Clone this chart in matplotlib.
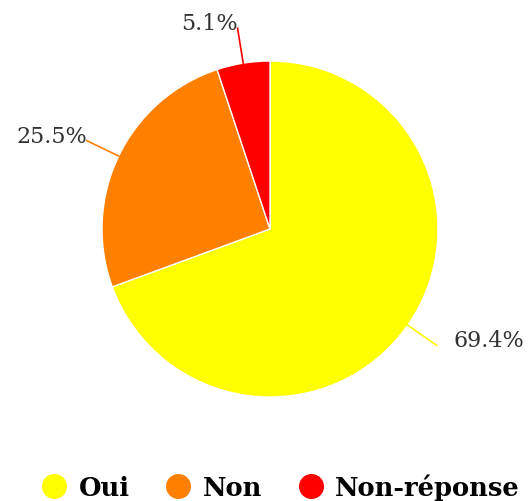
import numpy as np
import matplotlib.pyplot as plt
from matplotlib.lines import Line2D

labels = ["Oui", "Non", "Non-réponse"]
values = [69.4, 25.5, 5.1]
colors = ["#FFFF00", "#FF8000", "#FF0000"]

fig = plt.figure(figsize=(5.32, 5.02), dpi=100)
# pie centre at (270, 230) px, radius 168 px
ax = fig.add_axes([(270 - 168) / 532, (502 - 230 - 168) / 502, 336 / 532, 336 / 502])
wedges, _ = ax.pie(values, colors=colors, startangle=90, counterclock=False,
                   radius=1, wedgeprops=dict(edgecolor="white", linewidth=1))
ax.set_xlim(-1, 1)
ax.set_ylim(-1, 1)
ax.set_aspect("equal")
ax.axis("off")

# percentage labels with leader lines
for w, v, c in zip(wedges, values, colors):
    ang = np.deg2rad((w.theta1 + w.theta2) / 2)
    x0, y0 = np.cos(ang), np.sin(ang)
    x1, y1 = 1.21 * x0, 1.21 * y0
    ax.plot([x0, x1], [y0, y1], color=c, lw=1.2, clip_on=False)
    ha = "left" if x0 > 0 else "right"
    dx = 0.1 if x0 > 0 else 0.0
    ax.text(x1 + dx, y1 + 0.03, f"{v}%", ha=ha, va="center", fontsize=16,
            family="DejaVu Serif", color="#333333")

handles = [Line2D([], [], marker="o", ls="", markersize=17, color=c) for c in colors]
fig.legend(handles, labels, loc="lower center", bbox_to_anchor=(0.525, -0.045), ncol=3,
           frameon=False, handletextpad=0.35, columnspacing=1.3, handlelength=1.2,
           prop=dict(family="DejaVu Serif", weight="bold", size=18.5))

fig.savefig("out.png", dpi=100)
